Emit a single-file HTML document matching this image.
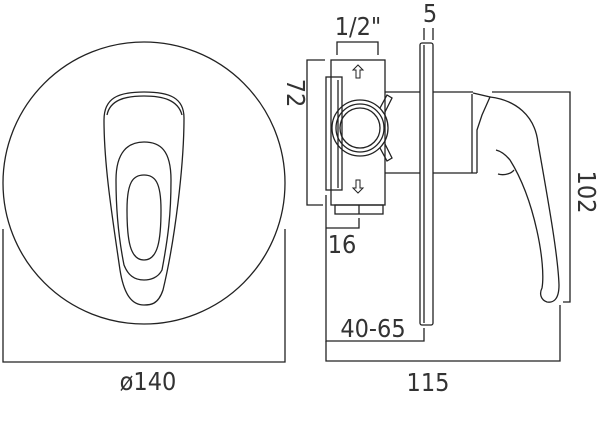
<!DOCTYPE html>
<html><head><meta charset="utf-8"><style>
html,body{margin:0;padding:0;background:#fff;width:600px;height:441px;overflow:hidden}
text{font-family:"DejaVu Sans Condensed","Liberation Sans Narrow","Liberation Sans",sans-serif;fill:#333}
</style></head><body>
<svg width="600" height="441" viewBox="0 0 600 441" xmlns="http://www.w3.org/2000/svg">
<g fill="none" stroke="#222" stroke-width="1.3">
<circle cx="144" cy="183" r="141"/>
<path d="M104 120 C104 98 118 92 144 92 C170 92 184 98 184 118 C184 165 175 240 163 290 C158 305 150 305 144 305 C132 305 124 295 120 270 C112 215 104 165 104 120 Z"/>
<path d="M107 115 C110 100 125 96 144 96 C163 96 178 100 182 115"/>
<path d="M144 142 C160 142 171 150 171 180 C171 215 168 238 162 270 C158 278 150 280 144 280 C134 280 128 275 124 265 C118 235 116 205 116 180 C116 152 128 142 144 142 Z"/>
<path d="M144 175 C155 175 161 182 161 210 C161 240 158 260 144 260 C130 260 127 240 127 210 C127 182 133 175 144 175 Z"/>
<path d="M3 229 V362 H285 V229"/>
<rect x="420" y="43" width="13" height="282" rx="2"/>
<line x1="424" y1="45" x2="424" y2="323"/>
<path d="M424 40 V28 M433 40 V28"/>
<path d="M385 92 H420 M433 92 H473 M385 173 H420 M433 173 H477"/>
<line x1="472" y1="94" x2="472" y2="173"/>
<path d="M473 93 L490 97 L482 115 L477 130 L477 173"/>
<path d="M490 97 C515 100 535 115 538 143 C548 200 558 255 559 285 C559 300 553 303 547 302 C541 300 539 294 542 288 C546 265 535 200 510 160 C505 154 500 151 496 150"/>
<path d="M498 174 C505 176 512 173 514 170"/>
<rect x="331" y="60" width="54" height="145"/>
<rect x="326" y="77" width="16" height="113"/>
<line x1="338" y1="80" x2="338" y2="188"/>
<rect x="335" y="205" width="48" height="9"/>
<line x1="359" y1="205" x2="359" y2="214"/>
<circle cx="360" cy="128" r="28"/>
<circle cx="360" cy="128" r="24"/>
<circle cx="360" cy="128" r="20"/>
<path d="M380 108 L387 95 L392 98 L385 112 M380 148 L387 161 L392 158 L385 144"/>
<path d="M356 78 V70 H353 L358 65 L363 70 H360 V78 Z M356 180 V188 H353 L358 193 L363 188 H360 V180 Z" stroke-width="1"/>
<path d="M337 55 V42 H378 V55"/>
<path d="M325 60 H307 V205 H323"/>
<path d="M326 195 V341 H424 V328"/>
<path d="M326 228 H359 V218"/>
<path d="M326 341 V361 H560 V305"/>
<path d="M492 92 H570 V302 H563"/>
</g>
<g font-size="25">
<text x="148" y="390" text-anchor="middle">ø140</text>
<text x="428" y="391" text-anchor="middle">115</text>
<text x="373" y="337" text-anchor="middle">40-65</text>
<text x="342" y="253" text-anchor="middle">16</text>
<text x="358" y="35" text-anchor="middle">1/2"</text>
<text x="430" y="22" text-anchor="middle">5</text>
<text transform="translate(287,93) rotate(90)" text-anchor="middle">72</text>
<text transform="translate(578,192) rotate(90)" text-anchor="middle">102</text>
</g>
</svg>
</body></html>
